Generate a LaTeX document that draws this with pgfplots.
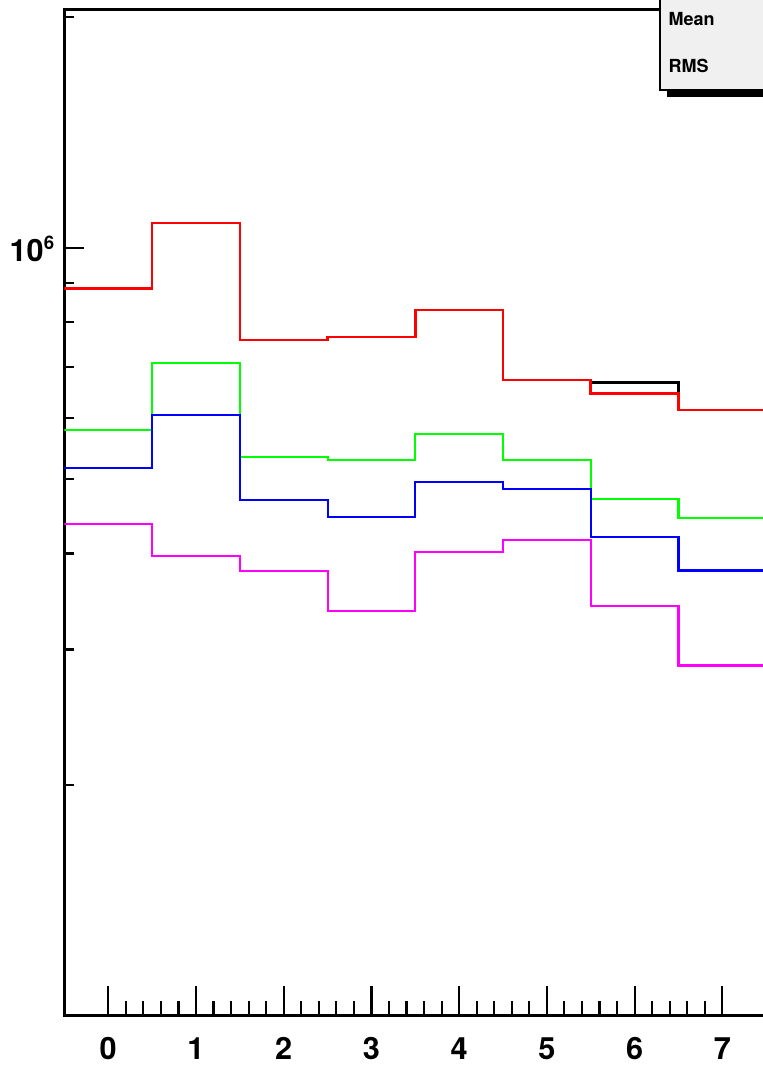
\documentclass[border=0pt]{standalone}
\usepackage{pgfplots}
\pgfplotsset{compat=1.18}
\usepackage{fontspec}
\setmainfont{TeX Gyre Heros}
\definecolor{hred}{RGB}{255,0,0}
\definecolor{hgreen}{RGB}{0,255,0}
\definecolor{hblue}{RGB}{0,0,255}
\definecolor{hmag}{RGB}{255,0,255}
\begin{document}
\begin{tikzpicture}
\begin{axis}[
  scale only axis,
  width=526.35pt, height=754.5pt,
  xmin=-0.5, xmax=7.5,
  ymode=log, ymin=1e5, ymax=2.04e6,
  axis line style={line width=2.2pt, black},
  tick align=inside,
  tick style={black, line width=1.6pt},
  xtick pos=bottom, ytick pos=left,
  xtick={0,1,2,3,4,5,6,7},
  minor x tick num=4,
  ytick={1e6},
  yticklabels={{10\raisebox{8.8pt}{\fontsize{14}{14}\selectfont 6}}},
  minor ytick={2e5,3e5,4e5,5e5,6e5,7e5,8e5,9e5,2e6},
  xtick style={black, line width=1.6pt,/pgfplots/major tick length=22.5pt,/pgfplots/minor tick length=11.25pt},
  ytick style={black, line width=1.6pt,/pgfplots/major tick length=15pt,/pgfplots/minor tick length=7.5pt},
  xticklabel style={font=\fontsize{23}{27}\selectfont\bfseries, anchor=base, inner sep=0pt, yshift=-33pt},
  yticklabel style={font=\fontsize{23}{27}\selectfont\bfseries, anchor=base east, inner sep=0pt, xshift=-7.5pt, yshift=-10.3pt},
  /pgf/number format/assume math mode=true,
]
\addplot[const plot, black, line width=1.9pt] coordinates {(-0.5,884500) (0.5,1077000) (1.5,758800) (2.5,765600) (3.5,830000) (4.5,672900) (5.5,668300) (6.5,615000) (7.5,615000) (8.5,615000)};
\addplot[const plot, hred, line width=1.9pt] coordinates {(-0.5,884500) (0.5,1077000) (1.5,758800) (2.5,765600) (3.5,830000) (4.5,672900) (5.5,646600) (6.5,615000) (7.5,615000) (8.5,615000)};
\addplot[const plot, hgreen, line width=1.6pt] coordinates {(-0.5,579100) (0.5,708800) (1.5,534500) (2.5,529700) (3.5,571700) (4.5,529300) (5.5,471200) (6.5,444900) (7.5,444900) (8.5,444900)};
\addplot[const plot, hblue, line width=1.6pt] coordinates {(-0.5,516200) (0.5,605800) (1.5,469000) (2.5,446300) (3.5,495800) (4.5,485100) (5.5,420100) (6.5,380100) (7.5,380100) (8.5,380100)};
\addplot[const plot, hmag, line width=1.6pt] coordinates {(-0.5,436900) (0.5,396700) (1.5,379300) (2.5,336700) (3.5,401500) (4.5,416200) (5.5,342100) (6.5,285900) (7.5,285900) (8.5,285900)};
\end{axis}
% stats box
\fill[black] (451.95pt,689.25pt) rectangle (580pt,790pt);
\filldraw[fill={rgb,255:red,240;green,240;blue,240}, draw=black, line width=1.1pt] (446.7pt,694.5pt) rectangle (575pt,785pt);
\node[anchor=base west, inner sep=0pt, font=\fontsize{13.5}{16}\selectfont\bfseries] at (452.9pt,742.5pt) {Mean};
\node[anchor=base west, inner sep=0pt, font=\fontsize{13.5}{16}\selectfont\bfseries] at (452.9pt,707.5pt) {RMS};
\pgfresetboundingbox
\path[use as bounding box] (-48.3pt,-36.75pt) rectangle (523.95pt,762pt);
\end{tikzpicture}
\end{document}
